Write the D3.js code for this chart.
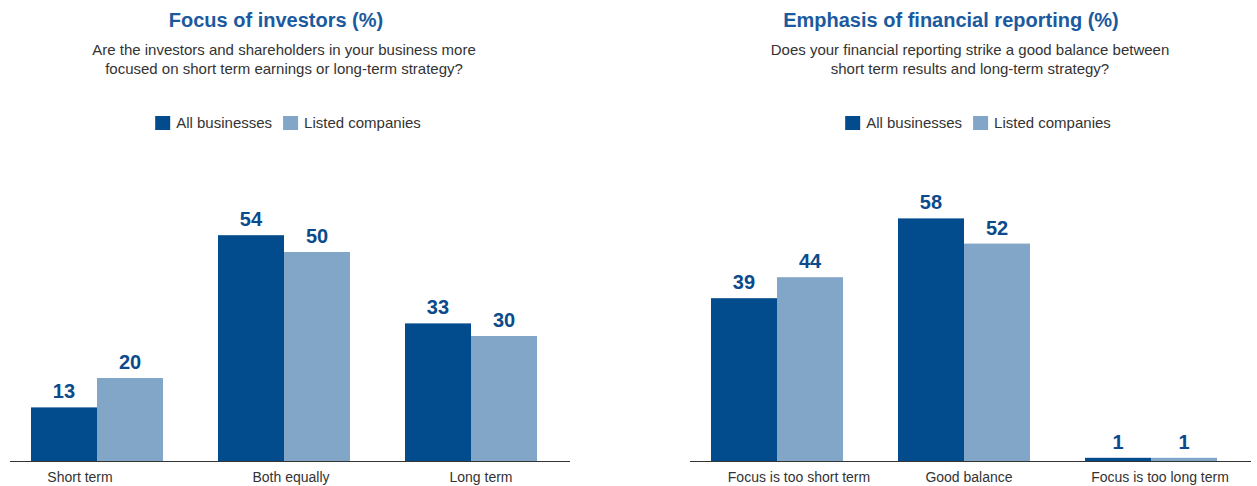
<!DOCTYPE html>
<html>
<head>
<meta charset="utf-8">
<script src="https://cdn.jsdelivr.net/npm/d3@7"></script>
<style>
  body { margin: 0; background: #fff; }
  svg { display: block; font-family: "Liberation Sans", Arial, sans-serif; }
</style>
</head>
<body>
<div id="chart"></div>
<script>
// ---- data ----
const seriesNames = ["All businesses", "Listed companies"];

const investorCategories = ["Short term", "Both equally", "Long term"];
const investorAll = [13, 54, 33];
const investorListed = [20, 50, 30];

const reportingCategories = ["Focus is too short term", "Good balance", "Focus is too long term"];
const reportingAll = [39, 58, 1];
const reportingListed = [44, 52, 1];

const colors = ["#024b8c", "#82a6c8"];

const W = 1257, H = 486;

const svg = d3.select("#chart").append("svg")
    .attr("width", W)
    .attr("height", H);

// panel layout (not data)
const panels = [
    {
        left: 10, width: 560,
        title: "Focus of investors (%)", titleX: 276,
        subtitle: ["Are the investors and shareholders in your business more",
                   "focused on short term earnings or long-term strategy?"],
        subX: 284, legendX: 288,
        labelShift: [-17, 7, 10],
        categories: investorCategories, values: [investorAll, investorListed]
    },
    {
        left: 690, width: 561,
        title: "Emphasis of financial reporting (%)", titleX: 951,
        subtitle: ["Does your financial reporting strike a good balance between",
                   "short term results and long-term strategy?"],
        subX: 970, legendX: 978,
        labelShift: [22, 5, 9],
        categories: reportingCategories, values: [reportingAll, reportingListed]
    }
];

const y = d3.scaleLinear().domain([0, 60]).range([462, 210]);

panels.forEach(p => drawPanel(p));

function drawPanel(p) {
    let g = svg.append("g");

    // title + question
    g.append("text")
        .attr("x", p.titleX).attr("y", 27)
        .attr("text-anchor", "middle")
        .attr("font-size", 20).attr("font-weight", "bold")
        .attr("fill", "#1b5a9e")
        .text(p.title);

    g.selectAll(".sub")
        .data(p.subtitle)
        .enter().append("text")
        .attr("class", "sub")
        .attr("x", p.subX)
        .attr("y", (d, i) => 54.5 + i * 19.5)
        .attr("text-anchor", "middle")
        .attr("font-size", 15)
        .attr("fill", "#333")
        .text(d => d);

    // legend
    let legend = g.append("g");
    let lx = 0;
    seriesNames.forEach((name, i) => {
        legend.append("rect")
            .attr("x", lx).attr("y", 116)
            .attr("width", 15).attr("height", 14)
            .attr("fill", colors[i]);
        let t = legend.append("text")
            .attr("x", lx + 21).attr("y", 128)
            .attr("font-size", 15)
            .attr("fill", "#333")
            .text(name);
        lx += 21 + t.node().getComputedTextLength() + 11;
    });
    let lw = lx - 11;
    legend.attr("transform", "translate(" + (p.legendX - lw / 2) + ",0)");

    // scales
    let x0 = d3.scaleBand()
        .domain(p.categories)
        .range([p.left - 6.5, p.left + 554.5])
        .paddingInner(0.294)
        .paddingOuter(0.147);
    let x1 = d3.scaleBand()
        .domain(d3.range(seriesNames.length))
        .range([0, x0.bandwidth()]);

    let rows = [];
    p.categories.forEach((c, ci) => {
        p.values.forEach((vals, si) => {
            rows.push({cat: c, s: si, v: vals[ci]});
        });
    });

    g.selectAll(".bar")
        .data(rows)
        .enter().append("rect")
        .attr("class", "bar")
        .attr("x", d => x0(d.cat) + x1(d.s))
        .attr("y", d => y(d.v))
        .attr("width", x1.bandwidth())
        .attr("height", d => y(0) - y(d.v))
        .attr("fill", d => colors[d.s]);

    g.selectAll(".val")
        .data(rows)
        .enter().append("text")
        .attr("class", "val")
        .attr("x", d => x0(d.cat) + x1(d.s) + x1.bandwidth() / 2)
        .attr("y", d => y(d.v) - 9)
        .attr("text-anchor", "middle")
        .attr("font-size", 20).attr("font-weight", "bold")
        .attr("fill", "#0b4a8c")
        .text(d => d.v);

    // baseline axis
    g.append("line")
        .attr("x1", p.left).attr("x2", p.left + p.width)
        .attr("y1", y(0) - 0.5).attr("y2", y(0) - 0.5)
        .attr("stroke", "#333").attr("stroke-width", 1);

    g.selectAll(".cat")
        .data(p.categories)
        .enter().append("text")
        .attr("class", "cat")
        .attr("x", (d, i) => x0(d) + x0.bandwidth() / 2 + p.labelShift[i])
        .attr("y", 482)
        .attr("text-anchor", "middle")
        .attr("font-size", 14)
        .attr("fill", "#333")
        .text(d => d);
}
</script>
</body>
</html>
